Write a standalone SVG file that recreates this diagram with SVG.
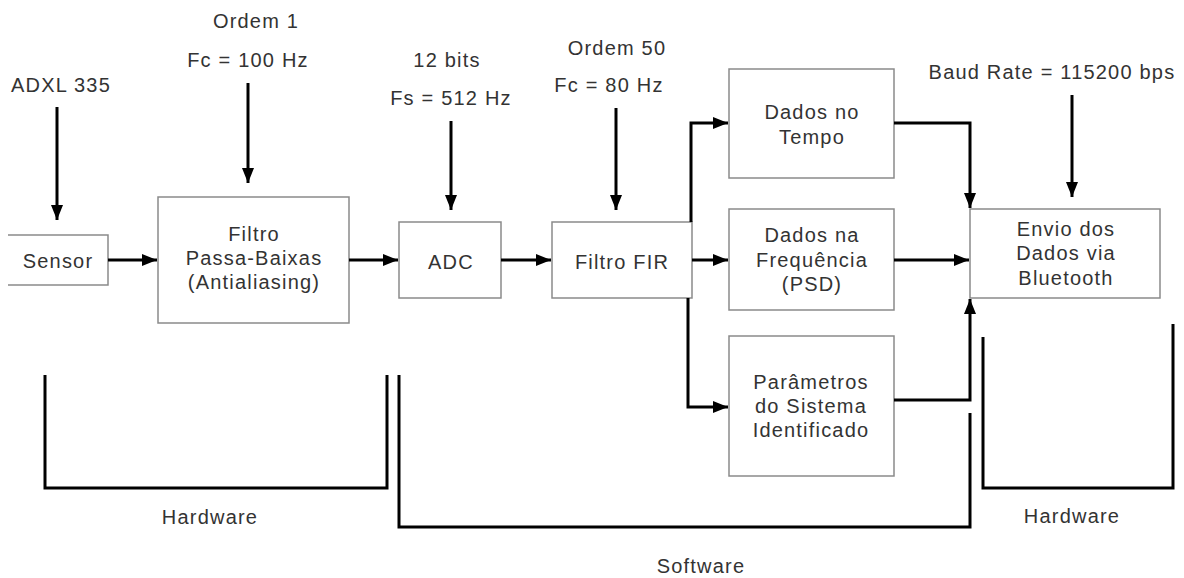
<svg xmlns="http://www.w3.org/2000/svg" width="1184" height="578" viewBox="0 0 1184 578">
<defs>
<style>
text{font-family:"Liberation Sans",Arial,sans-serif;font-size:20px;fill:#333;text-anchor:middle;letter-spacing:1.2px}
.box{fill:#fff;stroke:#8a8a8a;stroke-width:1.5}
.c{fill:none;stroke:#000;stroke-width:3}
.b{fill:none;stroke:#000;stroke-width:3}
</style>
<marker id="ah" markerUnits="userSpaceOnUse" markerWidth="16" markerHeight="12" refX="15" refY="6" orient="auto">
<path d="M0,0 L15,6 L0,12 z" fill="#000"/>
</marker>
</defs>
<rect width="1184" height="578" fill="#fff"/>

<g id="labels">
<text x="61" y="92">ADXL 335</text>
<text x="256" y="28">Ordem 1</text>
<text x="248" y="67">Fc = 100 Hz</text>
<text x="447" y="67">12 bits</text>
<text x="451" y="105">Fs = 512 Hz</text>
<text x="617" y="55">Ordem 50</text>
<text x="609" y="92">Fc = 80 Hz</text>
<text x="1052" y="79">Baud Rate = 115200 bps</text>
</g>

<g id="sensor">
<path class="box" d="M8,235 H108 V285 H8"/>
<text x="58" y="268">Sensor</text>
</g>
<g id="filtro-pb">
<rect class="box" x="158" y="197" width="191" height="126"/>
<text x="254" y="241">Filtro</text>
<text x="254" y="265">Passa-Baixas</text>
<text x="254" y="289">(Antialiasing)</text>
</g>
<g id="adc">
<rect class="box" x="399" y="222" width="102" height="76"/>
<text x="451" y="269">ADC</text>
</g>
<g id="fir">
<rect class="box" x="552" y="222" width="140" height="76"/>
<text x="622" y="269">Filtro FIR</text>
</g>
<g id="tempo">
<rect class="box" x="729" y="69" width="165" height="109"/>
<text x="812" y="119">Dados no</text>
<text x="812" y="144">Tempo</text>
</g>
<g id="freq">
<rect class="box" x="729" y="209" width="165" height="101"/>
<text x="812" y="242">Dados na</text>
<text x="812" y="267">Frequência</text>
<text x="812" y="291">(PSD)</text>
</g>
<g id="param">
<rect class="box" x="729" y="336" width="165" height="140"/>
<text x="811" y="389">Parâmetros</text>
<text x="811" y="413">do Sistema</text>
<text x="811" y="437">Identificado</text>
</g>
<g id="envio">
<rect class="box" x="970" y="209" width="190" height="89"/>
<text x="1066" y="236">Envio dos</text>
<text x="1066" y="260">Dados via</text>
<text x="1066" y="285">Bluetooth</text>
</g>

<g id="connectors">
<path class="c" d="M57,107 V220" marker-end="url(#ah)"/>
<path class="c" d="M248,83 V183" marker-end="url(#ah)"/>
<path class="c" d="M451,121 V210" marker-end="url(#ah)"/>
<path class="c" d="M616,108 V210" marker-end="url(#ah)"/>
<path class="c" d="M1072,95 V197" marker-end="url(#ah)"/>
<path class="c" d="M108,260 H157" marker-end="url(#ah)"/>
<path class="c" d="M349,260 H398" marker-end="url(#ah)"/>
<path class="c" d="M501,260 H551" marker-end="url(#ah)"/>
<path class="c" d="M691,222 V123 H728" marker-end="url(#ah)"/>
<path class="c" d="M692,260 H728" marker-end="url(#ah)"/>
<path class="c" d="M688,298 V407 H728" marker-end="url(#ah)"/>
<path class="c" d="M894,123 H970 V208" marker-end="url(#ah)"/>
<path class="c" d="M894,260 H969" marker-end="url(#ah)"/>
<path class="c" d="M894,400 H970 V299" marker-end="url(#ah)"/>
</g>

<g id="brackets">
<path class="b" d="M45,375 V488 H387 V375"/>
<path class="b" d="M399,375 V527 H970 V413"/>
<path class="b" d="M983,337 V488 H1173 V324"/>
<text x="210" y="524">Hardware</text>
<text x="701" y="573">Software</text>
<text x="1072" y="523">Hardware</text>
</g>
</svg>
